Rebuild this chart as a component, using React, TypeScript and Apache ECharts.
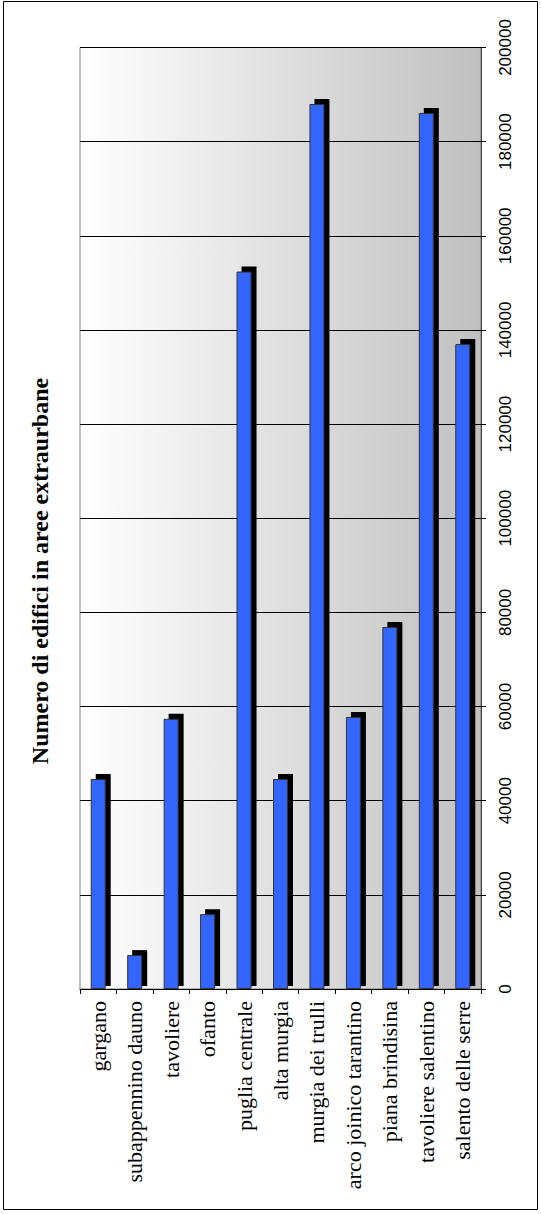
import React, { useEffect, useRef } from "react";
import * as echarts from "echarts";

const categories = [
  "gargano",
  "subappennino dauno",
  "tavoliere",
  "ofanto",
  "puglia centrale",
  "alta murgia",
  "murgia dei trulli",
  "arco joinico tarantino",
  "piana brindisina",
  "tavoliere salentino",
  "salento delle serre",
];

const edifici = [44600, 7200, 57400, 15900, 152400, 44600, 188000, 57800, 76900, 186100, 137000];

const valueMin = 0;
const valueMax = 200000;
const valueStep = 20000;

const titleText = "Numero di edifici in aree extraurbane";

export default function App() {
  const ref = useRef<HTMLDivElement>(null);

  useEffect(() => {
    if (!ref.current) return;
    const chart = echarts.init(ref.current, null, { renderer: "svg" });
    const barW = 15;
    const off = 5;
    chart.setOption({
      animation: false,
      backgroundColor: "#ffffff",
      grid: {
        left: 80,
        right: 60,
        top: 47.5,
        bottom: 225,
        show: true,
        borderColor: "#808080",
        borderWidth: 1,
        backgroundColor: new echarts.graphic.LinearGradient(0, 0, 1, 0, [
          { offset: 0, color: "#ffffff" },
          { offset: 1, color: "#c0c0c0" },
        ]),
        outerBoundsMode: "none",
      },
      xAxis: {
        type: "category",
        data: categories,
        axisLine: { show: true, lineStyle: { color: "#000", width: 1 } },
        axisTick: { show: true, length: 5, alignWithLabel: false, lineStyle: { color: "#000" } },
        axisLabel: {
          rotate: 90,
          margin: 12,
          interval: 0,
          color: "#000",
          fontFamily: "Liberation Serif",
          fontSize: 22,
        },
        splitLine: { show: false },
      },
      yAxis: {
        type: "value",
        position: "right",
        min: valueMin,
        max: valueMax,
        interval: valueStep,
        axisLine: { show: true, lineStyle: { color: "#404040", width: 1 } },
        axisTick: { show: true, length: 5, inside: false, lineStyle: { color: "#000" } },
        axisLabel: {
          rotate: 90,
          margin: 16,
          color: "#000",
          fontFamily: "Liberation Sans",
          fontSize: 17,
          formatter: (v: number) => String(v),
        },
        splitLine: { show: true, lineStyle: { color: "#000", width: 1 } },
      },
      graphic: [
        {
          type: "rect",
          shape: { x: 3.5, y: 1.5, width: 534, height: 1208 },
          style: { fill: "none", stroke: "#000", lineWidth: 1 },
          silent: true,
        },
        {
          type: "text",
          x: 40,
          y: 571,
          rotation: Math.PI / 2,
          style: {
            text: titleText,
            fontFamily: "Liberation Serif",
            fontWeight: "bold",
            fontSize: 24,
            fill: "#000",
            align: "center",
            verticalAlign: "middle",
          },
        },
      ],
      series: [
        {
          type: "custom",
          z: 1,
          data: edifici.map((v, i) => [i, v]),
          encode: { x: 0, y: 1 },
          renderItem: (params: any, api: any) => {
            const idx = api.value(0);
            const v = api.value(1);
            const top = api.coord([idx, v]);
            const base = api.coord([idx, 0]);
            return {
              type: "rect",
              shape: {
                x: top[0] - barW / 2 + off,
                y: top[1] - off,
                width: barW,
                height: base[1] - 3 - (top[1] - off),
              },
              style: { fill: "#000000" },
            };
          },
        },
        {
          type: "bar",
          z: 2,
          data: edifici,
          barWidth: barW,
          itemStyle: { color: "#3366ff", borderColor: "#333333", borderWidth: 1 },
        },
      ],
    });
    return () => chart.dispose();
  }, []);

  return (
    <div
      ref={ref}
      style={{ position: "fixed", left: 0, top: 0, width: 541, height: 1214 }}
    />
  );
}
